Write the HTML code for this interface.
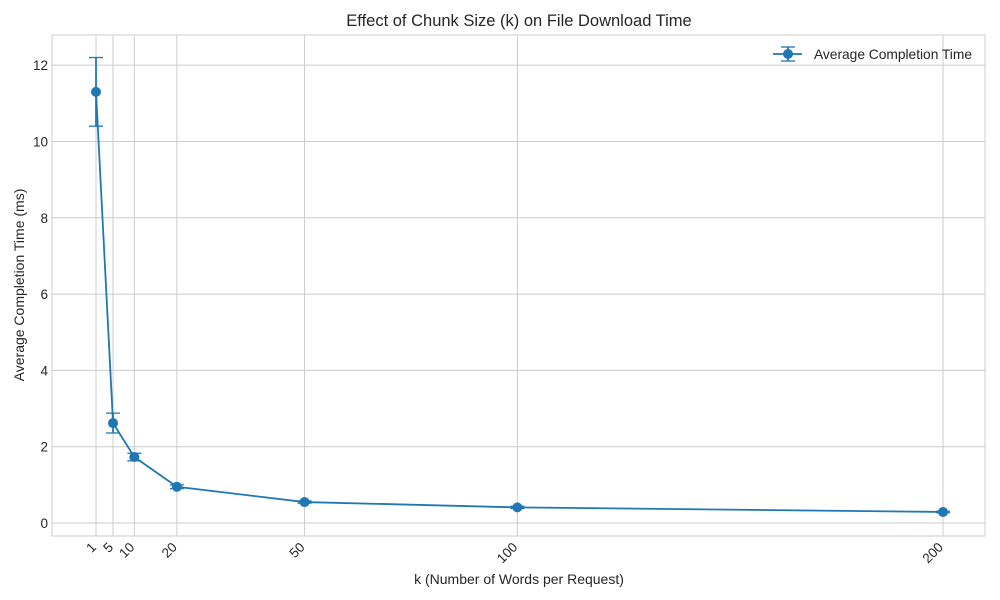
<!DOCTYPE html>
<html><head><meta charset="utf-8"><style>
body{margin:0;background:#fff;}
svg{display:block;font-family:"Liberation Sans","DejaVu Sans",sans-serif;}
</style></head><body>
<svg id="chart" width="1000" height="600" viewBox="0 0 1000 600"></svg>
<script>
const kValues = [1, 5, 10, 20, 50, 100, 200];
const meanTimes = [11.3, 2.62, 1.73, 0.95, 0.55, 0.41, 0.29];
const errTimes = [0.9, 0.26, 0.1, 0.05, 0.03, 0.03, 0.02];
const xTickLabels = ["1", "5", "10", "20", "50", "100", "200"];
const yTicks = [0, 2, 4, 6, 8, 10, 12];

const L = 52, R = 985, T = 35, B = 536;
const xMin = -9.34, xMax = 209.87, yMin = -0.34, yMax = 12.79;
const xs = v => L + (v - xMin) / (xMax - xMin) * (R - L);
const ys = v => B - (v - yMin) / (yMax - yMin) * (B - T);
const svg = document.getElementById('chart');
const NS = 'http://www.w3.org/2000/svg';
function mk(tag, attrs, parent) {
  const e = document.createElementNS(NS, tag);
  for (const k in attrs) e.setAttribute(k, attrs[k]);
  (parent || svg).appendChild(e);
  return e;
}
const color = '#1f77b4';

const grid = mk('g', {});


kValues.forEach((k, i) => {
  const x = xs(k);
  mk('line', {x1: x, x2: x, y1: T, y2: B, stroke: '#cccccc', 'stroke-width': 1}, grid);
  const ax = x + 1, ay = B + 12;
  const t = mk('text', {x: ax, y: ay, 'font-size': 13.5, fill: '#262626', 'text-anchor': 'end', transform: `rotate(-45 ${ax} ${ay})`});
  t.textContent = xTickLabels[i];
  
  
});
yTicks.forEach(v => {
  const y = ys(v);
  mk('line', {x1: L, x2: R, y1: y, y2: y, stroke: '#cccccc', 'stroke-width': 1}, grid);
  const t = mk('text', {x: L - 4, y: y + 5, 'font-size': 13.5, fill: '#262626', 'text-anchor': 'end'});
  t.textContent = v;
  
  
});
const frame = mk('rect', {x: L, y: T, width: R - L, height: B - T, fill: 'none', stroke: '#cccccc', 'stroke-width': 1});



const series = mk('g', {});


mk('polyline', {points: kValues.map((k, i) => xs(k) + ',' + ys(meanTimes[i])).join(' '), fill: 'none', stroke: color, 'stroke-width': 1.8}, series);
kValues.forEach((k, i) => {
  const x = xs(k), y1 = ys(meanTimes[i] + errTimes[i]), y2 = ys(meanTimes[i] - errTimes[i]);
  const eb = mk('g', {}, series);
  
  
  mk('line', {x1: x, x2: x, y1: y1, y2: y2, stroke: color, 'stroke-width': 1.8}, eb);
  mk('line', {x1: x - 7, x2: x + 7, y1: y1, y2: y1, stroke: color, 'stroke-width': 1.3}, eb);
  mk('line', {x1: x - 7, x2: x + 7, y1: y2, y2: y2, stroke: color, 'stroke-width': 1.3}, eb);
  const p = mk('circle', {cx: x, cy: ys(meanTimes[i]), r: 5, fill: color}, series);
  
  
});

const lg = mk('g', {});


mk('line', {x1: 773, x2: 802, y1: 54, y2: 54, stroke: color, 'stroke-width': 1.8}, lg);
mk('line', {x1: 788, x2: 788, y1: 47, y2: 61, stroke: color, 'stroke-width': 1.8}, lg);
mk('line', {x1: 781, x2: 795, y1: 47, y2: 47, stroke: color, 'stroke-width': 1.3}, lg);
mk('line', {x1: 781, x2: 795, y1: 61, y2: 61, stroke: color, 'stroke-width': 1.3}, lg);
mk('circle', {cx: 788, cy: 54, r: 5, fill: color}, lg);
const lt = mk('text', {x: 814, y: 59, 'font-size': 13.8, fill: '#262626', textLength: 158}, lg);
lt.textContent = 'Average Completion Time';

const title = mk('text', {x: 519, y: 26, 'font-size': 16.5, fill: '#262626', 'text-anchor': 'middle'});
title.textContent = 'Effect of Chunk Size (k) on File Download Time';


const xt = mk('text', {x: 519, y: 584, 'font-size': 14, fill: '#262626', 'text-anchor': 'middle'});
xt.textContent = 'k (Number of Words per Request)';


const yt = mk('text', {x: 24, y: 285, 'font-size': 14, fill: '#262626', 'text-anchor': 'middle', transform: 'rotate(-90 24 285)'});
yt.textContent = 'Average Completion Time (ms)';


</script>
</body></html>
